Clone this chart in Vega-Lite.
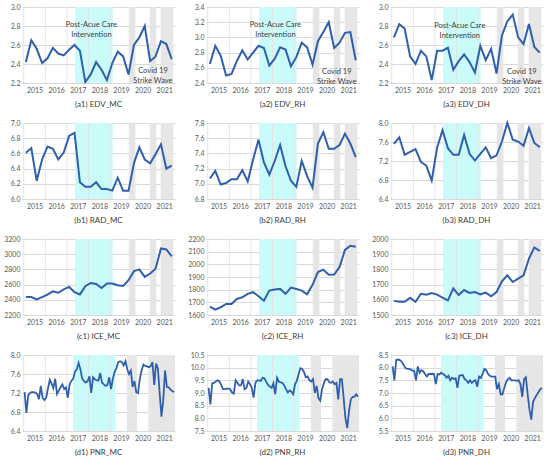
{
  "$schema": "https://vega.github.io/schema/vega-lite/v6.json",
  "padding": {"left": 3, "top": 3, "right": 4, "bottom": 0},
  "background": "white",
  "columns": 3,
  "spacing": {"row": 40, "column": 31},
  "bounds": "flush",
  "datasets": {
    "cyanQ": [{"t": 2016.88, "t2": 2018.62}],
    "cyanM": [{"t": 2016.78, "t2": 2018.74}],
    "greyQ": [{"t": 2019.36, "t2": 2019.67}, {"t": 2020.33, "t2": 2020.64}, {"t": 2020.84, "t2": 2021.42}],
    "greyM": [{"t": 2019.27, "t2": 2019.74}, {"t": 2020.27, "t2": 2021.5}],
    "vgrid": [{"t": 2014.5}, {"t": 2015.5}, {"t": 2016.5}, {"t": 2017.5}, {"t": 2018.5}, {"t": 2019.5}, {"t": 2020.5}],
    "note": [
      {"p": "a1", "t": 2017.63, "y": 2.81, "label": "Post-Acue Care\nIntervention"},
      {"p": "a1", "t": 2020.48, "y": 2.33, "label": "Covid 19\nStrike Wave"},
      {"p": "a2", "t": 2017.63, "y": 3.165, "label": "Post-Acue Care\nIntervention"},
      {"p": "a2", "t": 2020.47, "y": 2.54, "label": "Covid 19\nStrike Wave"},
      {"p": "a3", "t": 2017.65, "y": 2.8, "label": "Post-Acue Care\nIntervention"},
      {"p": "a3", "t": 2020.52, "y": 2.32, "label": "Covid 19\nStrike Wave"}
    ],
    "q": [
      {"t": 2014.6, "a1": 2.42, "a2": 2.65, "a3": 2.68, "b1": 6.61, "b2": 7.07, "b3": 7.56, "c1": 2436, "c2": 1666, "c3": 1593},
      {"t": 2014.85, "a1": 2.65, "a2": 2.89, "a3": 2.82, "b1": 6.67, "b2": 7.17, "b3": 7.70, "c1": 2436, "c2": 1643, "c3": 1587},
      {"t": 2015.1, "a1": 2.56, "a2": 2.76, "a3": 2.77, "b1": 6.24, "b2": 6.99, "b3": 7.33, "c1": 2405, "c2": 1661, "c3": 1587},
      {"t": 2015.35, "a1": 2.41, "a2": 2.50, "a3": 2.48, "b1": 6.52, "b2": 7.01, "b3": 7.39, "c1": 2436, "c2": 1687, "c3": 1614},
      {"t": 2015.6, "a1": 2.46, "a2": 2.52, "a3": 2.40, "b1": 6.69, "b2": 7.06, "b3": 7.45, "c1": 2467, "c2": 1687, "c3": 1587},
      {"t": 2015.85, "a1": 2.57, "a2": 2.69, "a3": 2.54, "b1": 6.66, "b2": 7.06, "b3": 7.18, "c1": 2511, "c2": 1727, "c3": 1640},
      {"t": 2016.1, "a1": 2.51, "a2": 2.83, "a3": 2.48, "b1": 6.52, "b2": 7.18, "b3": 7.10, "c1": 2493, "c2": 1740, "c3": 1634},
      {"t": 2016.35, "a1": 2.49, "a2": 2.71, "a3": 2.23, "b1": 6.61, "b2": 7.03, "b3": 6.79, "c1": 2538, "c2": 1767, "c3": 1645},
      {"t": 2016.6, "a1": 2.55, "a2": 2.80, "a3": 2.54, "b1": 6.83, "b2": 7.32, "b3": 7.48, "c1": 2569, "c2": 1780, "c3": 1634},
      {"t": 2016.85, "a1": 2.60, "a2": 2.89, "a3": 2.54, "b1": 6.87, "b2": 7.58, "b3": 7.85, "c1": 2502, "c2": 1748, "c3": 1614},
      {"t": 2017.1, "a1": 2.54, "a2": 2.86, "a3": 2.57, "b1": 6.22, "b2": 7.28, "b3": 7.47, "c1": 2471, "c2": 1713, "c3": 1596},
      {"t": 2017.35, "a1": 2.21, "a2": 2.63, "a3": 2.34, "b1": 6.16, "b2": 7.12, "b3": 7.33, "c1": 2578, "c2": 1793, "c3": 1675},
      {"t": 2017.6, "a1": 2.29, "a2": 2.72, "a3": 2.43, "b1": 6.16, "b2": 7.30, "b3": 7.33, "c1": 2622, "c2": 1801, "c3": 1631},
      {"t": 2017.85, "a1": 2.42, "a2": 2.87, "a3": 2.50, "b1": 6.22, "b2": 7.51, "b3": 7.75, "c1": 2609, "c2": 1806, "c3": 1664},
      {"t": 2018.1, "a1": 2.34, "a2": 2.84, "a3": 2.42, "b1": 6.13, "b2": 7.23, "b3": 7.35, "c1": 2556, "c2": 1767, "c3": 1645},
      {"t": 2018.35, "a1": 2.23, "a2": 2.62, "a3": 2.31, "b1": 6.13, "b2": 7.04, "b3": 7.21, "c1": 2613, "c2": 1817, "c3": 1651},
      {"t": 2018.6, "a1": 2.41, "a2": 2.74, "a3": 2.59, "b1": 6.11, "b2": 6.96, "b3": 7.35, "c1": 2613, "c2": 1806, "c3": 1636},
      {"t": 2018.85, "a1": 2.53, "a2": 2.93, "a3": 2.44, "b1": 6.28, "b2": 7.30, "b3": 7.49, "c1": 2591, "c2": 1793, "c3": 1647},
      {"t": 2019.1, "a1": 2.48, "a2": 2.87, "a3": 2.56, "b1": 6.11, "b2": 7.10, "b3": 7.26, "c1": 2582, "c2": 1764, "c3": 1623},
      {"t": 2019.35, "a1": 2.29, "a2": 2.64, "a3": 2.30, "b1": 6.11, "b2": 6.95, "b3": 7.32, "c1": 2657, "c2": 1838, "c3": 1651},
      {"t": 2019.6, "a1": 2.60, "a2": 2.95, "a3": 2.70, "b1": 6.47, "b2": 7.53, "b3": 7.61, "c1": 2777, "c2": 1939, "c3": 1722},
      {"t": 2019.85, "a1": 2.68, "a2": 3.07, "a3": 2.85, "b1": 6.68, "b2": 7.68, "b3": 8.00, "c1": 2800, "c2": 1958, "c3": 1761},
      {"t": 2020.1, "a1": 2.80, "a2": 3.20, "a3": 2.92, "b1": 6.52, "b2": 7.46, "b3": 7.65, "c1": 2702, "c2": 1918, "c3": 1717},
      {"t": 2020.35, "a1": 2.43, "a2": 2.86, "a3": 2.68, "b1": 6.47, "b2": 7.46, "b3": 7.61, "c1": 2746, "c2": 1920, "c3": 1739},
      {"t": 2020.6, "a1": 2.48, "a2": 2.93, "a3": 2.61, "b1": 6.59, "b2": 7.51, "b3": 7.52, "c1": 2809, "c2": 1979, "c3": 1761},
      {"t": 2020.85, "a1": 2.64, "a2": 3.06, "a3": 2.82, "b1": 6.72, "b2": 7.66, "b3": 7.89, "c1": 3075, "c2": 2114, "c3": 1871},
      {"t": 2021.1, "a1": 2.61, "a2": 3.07, "a3": 2.58, "b1": 6.40, "b2": 7.53, "b3": 7.58, "c1": 3062, "c2": 2147, "c3": 1945},
      {"t": 2021.35, "a1": 2.45, "a2": 2.70, "a3": 2.52, "b1": 6.44, "b2": 7.35, "b3": 7.49, "c1": 2973, "c2": 2139, "c3": 1921}
    ],
    "m": [
      {"t": 2014.54, "d1": 7.22, "d2": 9.20, "d3": 8.05},
      {"t": 2014.623, "d1": 6.78, "d2": 8.55, "d3": 7.50},
      {"t": 2014.707, "d1": 7.15, "d2": 9.38, "d3": 8.30},
      {"t": 2014.79, "d1": 7.20, "d2": 9.40, "d3": 8.32},
      {"t": 2014.873, "d1": 7.22, "d2": 9.45, "d3": 8.30},
      {"t": 2014.957, "d1": 7.22, "d2": 9.50, "d3": 8.24},
      {"t": 2015.04, "d1": 7.21, "d2": 9.46, "d3": 8.12},
      {"t": 2015.123, "d1": 7.18, "d2": 9.32, "d3": 8.00},
      {"t": 2015.207, "d1": 7.07, "d2": 9.15, "d3": 7.95},
      {"t": 2015.29, "d1": 7.35, "d2": 9.15, "d3": 7.95},
      {"t": 2015.373, "d1": 7.10, "d2": 9.17, "d3": 7.93},
      {"t": 2015.457, "d1": 7.05, "d2": 9.17, "d3": 7.88},
      {"t": 2015.54, "d1": 7.10, "d2": 9.15, "d3": 7.88},
      {"t": 2015.623, "d1": 7.30, "d2": 9.02, "d3": 7.50},
      {"t": 2015.707, "d1": 7.48, "d2": 8.98, "d3": 8.05},
      {"t": 2015.79, "d1": 7.40, "d2": 9.50, "d3": 7.80},
      {"t": 2015.873, "d1": 7.30, "d2": 9.40, "d3": 7.90},
      {"t": 2015.957, "d1": 7.50, "d2": 9.30, "d3": 7.86},
      {"t": 2016.04, "d1": 7.18, "d2": 9.30, "d3": 7.75},
      {"t": 2016.123, "d1": 7.25, "d2": 9.55, "d3": 7.65},
      {"t": 2016.207, "d1": 7.32, "d2": 9.15, "d3": 7.75},
      {"t": 2016.29, "d1": 7.38, "d2": 9.20, "d3": 7.75},
      {"t": 2016.373, "d1": 7.28, "d2": 9.45, "d3": 7.76},
      {"t": 2016.457, "d1": 7.32, "d2": 9.35, "d3": 7.75},
      {"t": 2016.54, "d1": 7.10, "d2": 9.20, "d3": 7.35},
      {"t": 2016.623, "d1": 7.38, "d2": 8.82, "d3": 7.75},
      {"t": 2016.707, "d1": 7.46, "d2": 9.40, "d3": 7.73},
      {"t": 2016.79, "d1": 7.50, "d2": 9.50, "d3": 7.80},
      {"t": 2016.873, "d1": 7.65, "d2": 9.50, "d3": 7.75},
      {"t": 2016.957, "d1": 7.70, "d2": 9.48, "d3": 7.70},
      {"t": 2017.04, "d1": 7.83, "d2": 9.60, "d3": 7.60},
      {"t": 2017.123, "d1": 7.70, "d2": 9.58, "d3": 7.68},
      {"t": 2017.207, "d1": 7.50, "d2": 9.45, "d3": 7.50},
      {"t": 2017.29, "d1": 7.45, "d2": 9.32, "d3": 7.60},
      {"t": 2017.373, "d1": 7.42, "d2": 9.25, "d3": 7.55},
      {"t": 2017.457, "d1": 7.45, "d2": 9.20, "d3": 7.58},
      {"t": 2017.54, "d1": 7.55, "d2": 9.38, "d3": 7.20},
      {"t": 2017.623, "d1": 7.20, "d2": 8.95, "d3": 7.68},
      {"t": 2017.707, "d1": 7.53, "d2": 9.60, "d3": 7.70},
      {"t": 2017.79, "d1": 7.49, "d2": 9.45, "d3": 7.70},
      {"t": 2017.873, "d1": 7.47, "d2": 9.42, "d3": 7.55},
      {"t": 2017.957, "d1": 7.46, "d2": 9.40, "d3": 7.50},
      {"t": 2018.04, "d1": 7.62, "d2": 9.30, "d3": 7.40},
      {"t": 2018.123, "d1": 7.42, "d2": 9.15, "d3": 7.50},
      {"t": 2018.207, "d1": 7.38, "d2": 9.02, "d3": 7.40},
      {"t": 2018.29, "d1": 7.35, "d2": 9.10, "d3": 7.47},
      {"t": 2018.373, "d1": 7.37, "d2": 9.05, "d3": 7.50},
      {"t": 2018.457, "d1": 7.53, "d2": 8.95, "d3": 7.25},
      {"t": 2018.54, "d1": 7.28, "d2": 9.35, "d3": 7.65},
      {"t": 2018.623, "d1": 7.50, "d2": 9.48, "d3": 7.60},
      {"t": 2018.707, "d1": 7.64, "d2": 9.75, "d3": 7.75},
      {"t": 2018.79, "d1": 7.73, "d2": 9.98, "d3": 7.95},
      {"t": 2018.873, "d1": 7.85, "d2": 9.95, "d3": 7.90},
      {"t": 2018.957, "d1": 7.87, "d2": 9.82, "d3": 7.75},
      {"t": 2019.04, "d1": 7.85, "d2": 9.62, "d3": 7.68},
      {"t": 2019.123, "d1": 7.78, "d2": 9.65, "d3": 7.65},
      {"t": 2019.207, "d1": 7.87, "d2": 9.50, "d3": 7.65},
      {"t": 2019.29, "d1": 7.70, "d2": 9.45, "d3": 7.65},
      {"t": 2019.373, "d1": 7.60, "d2": 9.55, "d3": 7.15},
      {"t": 2019.457, "d1": 7.67, "d2": 9.00, "d3": 7.35},
      {"t": 2019.54, "d1": 7.33, "d2": 9.28, "d3": 6.95},
      {"t": 2019.623, "d1": 7.45, "d2": 8.80, "d3": 6.95},
      {"t": 2019.707, "d1": 7.22, "d2": 8.70, "d3": 7.20},
      {"t": 2019.79, "d1": 7.20, "d2": 9.15, "d3": 7.42},
      {"t": 2019.873, "d1": 7.50, "d2": 9.38, "d3": 7.55},
      {"t": 2019.957, "d1": 7.68, "d2": 9.55, "d3": 7.60},
      {"t": 2020.04, "d1": 7.80, "d2": 9.55, "d3": 7.50},
      {"t": 2020.123, "d1": 7.77, "d2": 9.42, "d3": 7.50},
      {"t": 2020.207, "d1": 7.76, "d2": 9.40, "d3": 7.50},
      {"t": 2020.29, "d1": 7.74, "d2": 9.45, "d3": 7.48},
      {"t": 2020.373, "d1": 7.76, "d2": 9.35, "d3": 7.50},
      {"t": 2020.457, "d1": 7.85, "d2": 9.40, "d3": 7.35},
      {"t": 2020.54, "d1": 7.37, "d2": 8.75, "d3": 6.85},
      {"t": 2020.623, "d1": 7.82, "d2": 9.55, "d3": 7.55},
      {"t": 2020.707, "d1": 7.72, "d2": 9.55, "d3": 7.62},
      {"t": 2020.79, "d1": 7.20, "d2": 8.80, "d3": 6.95},
      {"t": 2020.873, "d1": 6.70, "d2": 8.00, "d3": 6.35},
      {"t": 2020.957, "d1": 7.05, "d2": 7.62, "d3": 5.95},
      {"t": 2021.04, "d1": 7.67, "d2": 8.30, "d3": 6.65},
      {"t": 2021.123, "d1": 7.33, "d2": 8.75, "d3": 6.80},
      {"t": 2021.207, "d1": 7.32, "d2": 8.85, "d3": 6.92},
      {"t": 2021.29, "d1": 7.27, "d2": 8.85, "d3": 7.03},
      {"t": 2021.373, "d1": 7.24, "d2": 8.95, "d3": 7.15},
      {"t": 2021.457, "d1": 7.22, "d2": 8.85, "d3": 7.20}
    ]
  },
  "concat": [
    {
      "width": 153, "height": 76, "title": "(a1) EDV_MC",
      "encoding": {"x": {"field": "t", "type": "quantitative", "scale": {"domain": [2014.42, 2021.5]}, "axis": {"values": [2015, 2016, 2017, 2018, 2019, 2020, 2021], "format": "d", "grid": false, "title": null, "labelFlush": false}}},
      "layer": [
        {"data": {"name": "cyanQ"}, "mark": {"type": "rect", "color": "#c9fbfb"}, "encoding": {"x2": {"field": "t2"}}},
        {"data": {"name": "greyQ"}, "mark": {"type": "rect", "color": "#e6e6e6"}, "encoding": {"x2": {"field": "t2"}}},
        {"data": {"name": "vgrid"}, "mark": {"type": "rule", "color": "#e4e4e4"}, "encoding": {}},
        {"data": {"name": "q"}, "mark": {"type": "line", "color": "#2f5fad", "strokeWidth": 2}, "encoding": {"y": {"field": "a1", "type": "quantitative", "scale": {"domain": [2.2, 3.0], "nice": false, "zero": false}, "axis": {"values": [2.2, 2.4, 2.6, 2.8, 3.0], "format": ".1f", "title": null}}}},
        {"data": {"name": "note"}, "transform": [{"filter": "datum.p == 'a1'"}], "mark": {"type": "text", "lineBreak": "\n", "font": "Lato", "fontSize": 7.5, "lineHeight": 10, "color": "#404040"}, "encoding": {"y": {"field": "y", "type": "quantitative", "scale": {"domain": [2.2, 3.0], "nice": false, "zero": false}, "axis": {"values": [2.2, 2.4, 2.6, 2.8, 3.0], "format": ".1f", "title": null}}, "text": {"field": "label"}}}
      ]
    },
    {
      "width": 153, "height": 76, "title": "(a2) EDV_RH",
      "encoding": {"x": {"field": "t", "type": "quantitative", "scale": {"domain": [2014.42, 2021.5]}, "axis": {"values": [2015, 2016, 2017, 2018, 2019, 2020, 2021], "format": "d", "grid": false, "title": null, "labelFlush": false}}},
      "layer": [
        {"data": {"name": "cyanQ"}, "mark": {"type": "rect", "color": "#c9fbfb"}, "encoding": {"x2": {"field": "t2"}}},
        {"data": {"name": "greyQ"}, "mark": {"type": "rect", "color": "#e6e6e6"}, "encoding": {"x2": {"field": "t2"}}},
        {"data": {"name": "vgrid"}, "mark": {"type": "rule", "color": "#e4e4e4"}, "encoding": {}},
        {"data": {"name": "q"}, "mark": {"type": "line", "color": "#2f5fad", "strokeWidth": 2}, "encoding": {"y": {"field": "a2", "type": "quantitative", "scale": {"domain": [2.4, 3.4], "nice": false, "zero": false}, "axis": {"values": [2.4, 2.6, 2.8, 3.0, 3.2, 3.4], "format": ".1f", "title": null}}}},
        {"data": {"name": "note"}, "transform": [{"filter": "datum.p == 'a2'"}], "mark": {"type": "text", "lineBreak": "\n", "font": "Lato", "fontSize": 7.5, "lineHeight": 10, "color": "#404040"}, "encoding": {"y": {"field": "y", "type": "quantitative", "scale": {"domain": [2.4, 3.4], "nice": false, "zero": false}, "axis": {"values": [2.4, 2.6, 2.8, 3.0, 3.2, 3.4], "format": ".1f", "title": null}}, "text": {"field": "label"}}}
      ]
    },
    {
      "width": 153, "height": 76, "title": "(a3) EDV_DH",
      "encoding": {"x": {"field": "t", "type": "quantitative", "scale": {"domain": [2014.42, 2021.5]}, "axis": {"values": [2015, 2016, 2017, 2018, 2019, 2020, 2021], "format": "d", "grid": false, "title": null, "labelFlush": false}}},
      "layer": [
        {"data": {"name": "cyanQ"}, "mark": {"type": "rect", "color": "#c9fbfb"}, "encoding": {"x2": {"field": "t2"}}},
        {"data": {"name": "greyQ"}, "mark": {"type": "rect", "color": "#e6e6e6"}, "encoding": {"x2": {"field": "t2"}}},
        {"data": {"name": "vgrid"}, "mark": {"type": "rule", "color": "#e4e4e4"}, "encoding": {}},
        {"data": {"name": "q"}, "mark": {"type": "line", "color": "#2f5fad", "strokeWidth": 2}, "encoding": {"y": {"field": "a3", "type": "quantitative", "scale": {"domain": [2.2, 3.0], "nice": false, "zero": false}, "axis": {"values": [2.2, 2.4, 2.6, 2.8, 3.0], "format": ".1f", "title": null}}}},
        {"data": {"name": "note"}, "transform": [{"filter": "datum.p == 'a3'"}], "mark": {"type": "text", "lineBreak": "\n", "font": "Lato", "fontSize": 7.5, "lineHeight": 10, "color": "#404040"}, "encoding": {"y": {"field": "y", "type": "quantitative", "scale": {"domain": [2.2, 3.0], "nice": false, "zero": false}, "axis": {"values": [2.2, 2.4, 2.6, 2.8, 3.0], "format": ".1f", "title": null}}, "text": {"field": "label"}}}
      ]
    },
    {
      "width": 153, "height": 76, "title": "(b1) RAD_MC",
      "encoding": {"x": {"field": "t", "type": "quantitative", "scale": {"domain": [2014.42, 2021.5]}, "axis": {"values": [2015, 2016, 2017, 2018, 2019, 2020, 2021], "format": "d", "grid": false, "title": null, "labelFlush": false}}},
      "layer": [
        {"data": {"name": "cyanQ"}, "mark": {"type": "rect", "color": "#c9fbfb"}, "encoding": {"x2": {"field": "t2"}}},
        {"data": {"name": "greyQ"}, "mark": {"type": "rect", "color": "#e6e6e6"}, "encoding": {"x2": {"field": "t2"}}},
        {"data": {"name": "vgrid"}, "mark": {"type": "rule", "color": "#e4e4e4"}, "encoding": {}},
        {"data": {"name": "q"}, "mark": {"type": "line", "color": "#2f5fad", "strokeWidth": 2}, "encoding": {"y": {"field": "b1", "type": "quantitative", "scale": {"domain": [6.0, 7.0], "nice": false, "zero": false}, "axis": {"values": [6.0, 6.2, 6.4, 6.6, 6.8, 7.0], "format": ".1f", "title": null}}}}
      ]
    },
    {
      "width": 153, "height": 76, "title": "(b2) RAD_RH",
      "encoding": {"x": {"field": "t", "type": "quantitative", "scale": {"domain": [2014.42, 2021.5]}, "axis": {"values": [2015, 2016, 2017, 2018, 2019, 2020, 2021], "format": "d", "grid": false, "title": null, "labelFlush": false}}},
      "layer": [
        {"data": {"name": "cyanQ"}, "mark": {"type": "rect", "color": "#c9fbfb"}, "encoding": {"x2": {"field": "t2"}}},
        {"data": {"name": "greyQ"}, "mark": {"type": "rect", "color": "#e6e6e6"}, "encoding": {"x2": {"field": "t2"}}},
        {"data": {"name": "vgrid"}, "mark": {"type": "rule", "color": "#e4e4e4"}, "encoding": {}},
        {"data": {"name": "q"}, "mark": {"type": "line", "color": "#2f5fad", "strokeWidth": 2}, "encoding": {"y": {"field": "b2", "type": "quantitative", "scale": {"domain": [6.8, 7.8], "nice": false, "zero": false}, "axis": {"values": [6.8, 7.0, 7.2, 7.4, 7.6, 7.8], "format": ".1f", "title": null}}}}
      ]
    },
    {
      "width": 153, "height": 76, "title": "(b3) RAD_DH",
      "encoding": {"x": {"field": "t", "type": "quantitative", "scale": {"domain": [2014.42, 2021.5]}, "axis": {"values": [2015, 2016, 2017, 2018, 2019, 2020, 2021], "format": "d", "grid": false, "title": null, "labelFlush": false}}},
      "layer": [
        {"data": {"name": "cyanQ"}, "mark": {"type": "rect", "color": "#c9fbfb"}, "encoding": {"x2": {"field": "t2"}}},
        {"data": {"name": "greyQ"}, "mark": {"type": "rect", "color": "#e6e6e6"}, "encoding": {"x2": {"field": "t2"}}},
        {"data": {"name": "vgrid"}, "mark": {"type": "rule", "color": "#e4e4e4"}, "encoding": {}},
        {"data": {"name": "q"}, "mark": {"type": "line", "color": "#2f5fad", "strokeWidth": 2}, "encoding": {"y": {"field": "b3", "type": "quantitative", "scale": {"domain": [6.4, 8.0], "nice": false, "zero": false}, "axis": {"values": [6.4, 6.8, 7.2, 7.6, 8.0], "format": ".1f", "title": null}}}}
      ]
    },
    {
      "width": 153, "height": 76, "title": "(c1) ICE_MC",
      "encoding": {"x": {"field": "t", "type": "quantitative", "scale": {"domain": [2014.42, 2021.5]}, "axis": {"values": [2015, 2016, 2017, 2018, 2019, 2020, 2021], "format": "d", "grid": false, "title": null, "labelFlush": false}}},
      "layer": [
        {"data": {"name": "cyanQ"}, "mark": {"type": "rect", "color": "#c9fbfb"}, "encoding": {"x2": {"field": "t2"}}},
        {"data": {"name": "greyQ"}, "mark": {"type": "rect", "color": "#e6e6e6"}, "encoding": {"x2": {"field": "t2"}}},
        {"data": {"name": "vgrid"}, "mark": {"type": "rule", "color": "#e4e4e4"}, "encoding": {}},
        {"data": {"name": "q"}, "mark": {"type": "line", "color": "#2f5fad", "strokeWidth": 2}, "encoding": {"y": {"field": "c1", "type": "quantitative", "scale": {"domain": [2200, 3200], "nice": false, "zero": false}, "axis": {"values": [2200, 2400, 2600, 2800, 3000, 3200], "format": "d", "title": null}}}}
      ]
    },
    {
      "width": 153, "height": 76, "title": "(c2) ICE_RH",
      "encoding": {"x": {"field": "t", "type": "quantitative", "scale": {"domain": [2014.42, 2021.5]}, "axis": {"values": [2015, 2016, 2017, 2018, 2019, 2020, 2021], "format": "d", "grid": false, "title": null, "labelFlush": false}}},
      "layer": [
        {"data": {"name": "cyanQ"}, "mark": {"type": "rect", "color": "#c9fbfb"}, "encoding": {"x2": {"field": "t2"}}},
        {"data": {"name": "greyQ"}, "mark": {"type": "rect", "color": "#e6e6e6"}, "encoding": {"x2": {"field": "t2"}}},
        {"data": {"name": "vgrid"}, "mark": {"type": "rule", "color": "#e4e4e4"}, "encoding": {}},
        {"data": {"name": "q"}, "mark": {"type": "line", "color": "#2f5fad", "strokeWidth": 2}, "encoding": {"y": {"field": "c2", "type": "quantitative", "scale": {"domain": [1600, 2200], "nice": false, "zero": false}, "axis": {"values": [1600, 1700, 1800, 1900, 2000, 2100, 2200], "format": "d", "title": null}}}}
      ]
    },
    {
      "width": 153, "height": 76, "title": "(c3) ICE_DH",
      "encoding": {"x": {"field": "t", "type": "quantitative", "scale": {"domain": [2014.42, 2021.5]}, "axis": {"values": [2015, 2016, 2017, 2018, 2019, 2020, 2021], "format": "d", "grid": false, "title": null, "labelFlush": false}}},
      "layer": [
        {"data": {"name": "cyanQ"}, "mark": {"type": "rect", "color": "#c9fbfb"}, "encoding": {"x2": {"field": "t2"}}},
        {"data": {"name": "greyQ"}, "mark": {"type": "rect", "color": "#e6e6e6"}, "encoding": {"x2": {"field": "t2"}}},
        {"data": {"name": "vgrid"}, "mark": {"type": "rule", "color": "#e4e4e4"}, "encoding": {}},
        {"data": {"name": "q"}, "mark": {"type": "line", "color": "#2f5fad", "strokeWidth": 2}, "encoding": {"y": {"field": "c3", "type": "quantitative", "scale": {"domain": [1500, 2000], "nice": false, "zero": false}, "axis": {"values": [1500, 1600, 1700, 1800, 1900, 2000], "format": "d", "title": null}}}}
      ]
    },
    {
      "width": 153, "height": 76, "title": "(d1) PNR_MC",
      "encoding": {"x": {"field": "t", "type": "quantitative", "scale": {"domain": [2014.42, 2021.5]}, "axis": {"values": [2015, 2016, 2017, 2018, 2019, 2020, 2021], "format": "d", "grid": false, "title": null, "labelFlush": false}}},
      "layer": [
        {"data": {"name": "cyanM"}, "mark": {"type": "rect", "color": "#c9fbfb"}, "encoding": {"x2": {"field": "t2"}}},
        {"data": {"name": "greyM"}, "mark": {"type": "rect", "color": "#e6e6e6"}, "encoding": {"x2": {"field": "t2"}}},
        {"data": {"name": "vgrid"}, "mark": {"type": "rule", "color": "#e4e4e4"}, "encoding": {}},
        {"data": {"name": "m"}, "mark": {"type": "line", "color": "#2f5fad", "strokeWidth": 1.8}, "encoding": {"y": {"field": "d1", "type": "quantitative", "scale": {"domain": [6.4, 8.0], "nice": false, "zero": false}, "axis": {"values": [6.4, 6.8, 7.2, 7.6, 8.0], "format": ".1f", "title": null}}}}
      ]
    },
    {
      "width": 153, "height": 76, "title": "(d2) PNR_RH",
      "encoding": {"x": {"field": "t", "type": "quantitative", "scale": {"domain": [2014.42, 2021.5]}, "axis": {"values": [2015, 2016, 2017, 2018, 2019, 2020, 2021], "format": "d", "grid": false, "title": null, "labelFlush": false}}},
      "layer": [
        {"data": {"name": "cyanM"}, "mark": {"type": "rect", "color": "#c9fbfb"}, "encoding": {"x2": {"field": "t2"}}},
        {"data": {"name": "greyM"}, "mark": {"type": "rect", "color": "#e6e6e6"}, "encoding": {"x2": {"field": "t2"}}},
        {"data": {"name": "vgrid"}, "mark": {"type": "rule", "color": "#e4e4e4"}, "encoding": {}},
        {"data": {"name": "m"}, "mark": {"type": "line", "color": "#2f5fad", "strokeWidth": 1.8}, "encoding": {"y": {"field": "d2", "type": "quantitative", "scale": {"domain": [7.5, 10.5], "nice": false, "zero": false}, "axis": {"values": [7.5, 8.0, 8.5, 9.0, 9.5, 10.0, 10.5], "format": ".1f", "title": null}}}}
      ]
    },
    {
      "width": 153, "height": 76, "title": "(d3) PNR_DH",
      "encoding": {"x": {"field": "t", "type": "quantitative", "scale": {"domain": [2014.42, 2021.5]}, "axis": {"values": [2015, 2016, 2017, 2018, 2019, 2020, 2021], "format": "d", "grid": false, "title": null, "labelFlush": false}}},
      "layer": [
        {"data": {"name": "cyanM"}, "mark": {"type": "rect", "color": "#c9fbfb"}, "encoding": {"x2": {"field": "t2"}}},
        {"data": {"name": "greyM"}, "mark": {"type": "rect", "color": "#e6e6e6"}, "encoding": {"x2": {"field": "t2"}}},
        {"data": {"name": "vgrid"}, "mark": {"type": "rule", "color": "#e4e4e4"}, "encoding": {}},
        {"data": {"name": "m"}, "mark": {"type": "line", "color": "#2f5fad", "strokeWidth": 1.8}, "encoding": {"y": {"field": "d3", "type": "quantitative", "scale": {"domain": [5.5, 8.5], "nice": false, "zero": false}, "axis": {"values": [5.5, 6.0, 6.5, 7.0, 7.5, 8.0, 8.5], "format": ".1f", "title": null}}}}
      ]
    }
  ],
  "config": {
    "view": {"stroke": null},
    "axis": {"labelFont": "Lato", "labelFontSize": 7, "labelColor": "#595959", "domain": false, "ticks": false, "gridColor": "#d9d9d9", "gridWidth": 1, "labelOverlap": false},
    "axisX": {"labelPadding": 3},
    "axisY": {"labelPadding": 2, "grid": true},
    "title": {"orient": "bottom", "font": "Lato", "fontSize": 8, "fontWeight": "normal", "color": "#404040", "offset": 8}
  }
}
